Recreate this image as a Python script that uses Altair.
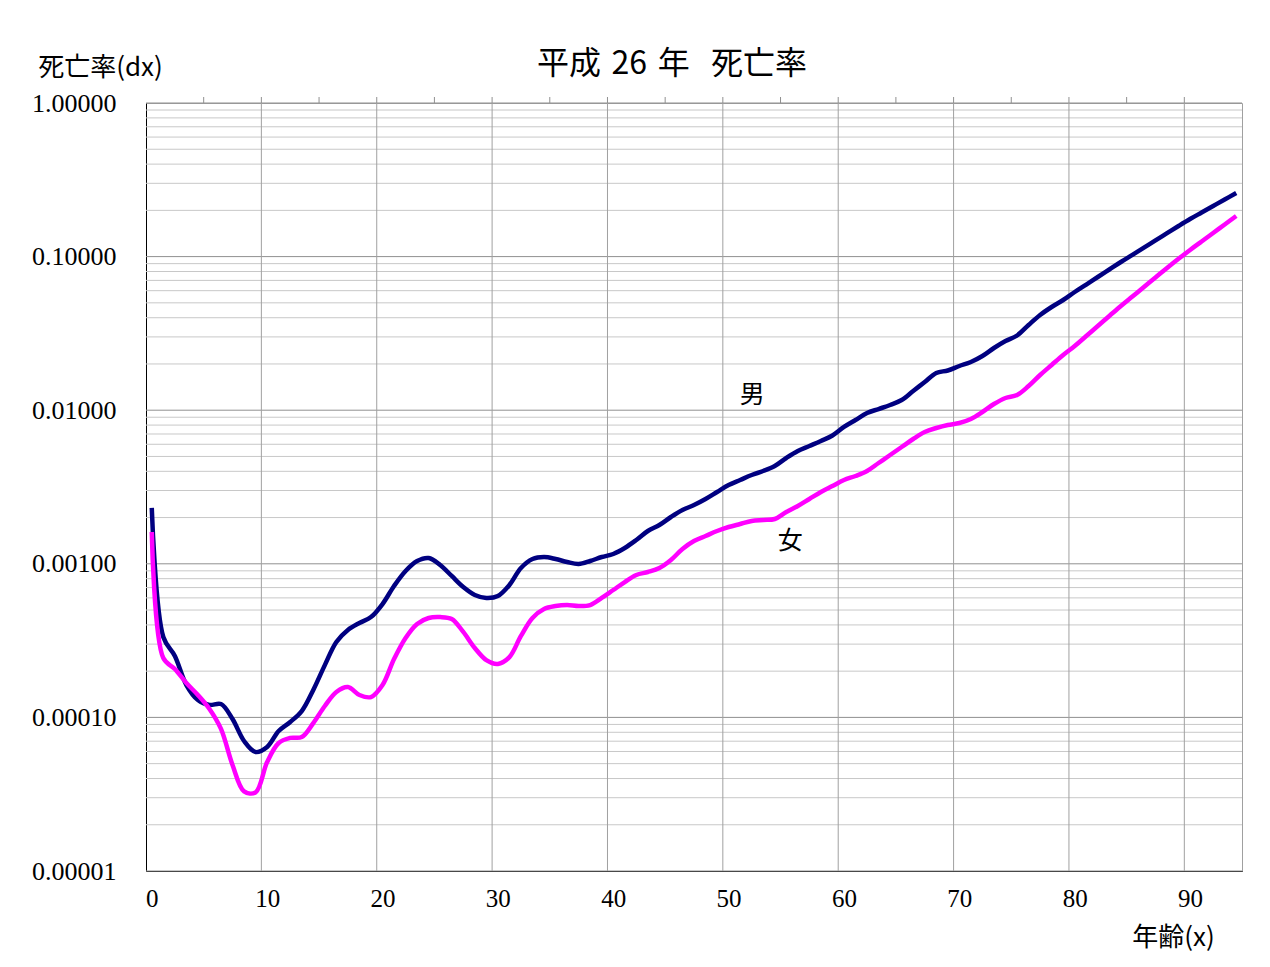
import altair as alt
import pandas as pd

ages = list(range(95))

male = [0.00231, 0.000334, 0.000251, 0.0001625, 0.0001298, 0.0001204, 0.0001222, 0.0000976, 0.0000702, 0.0000595,
        0.0000642, 0.0000816, 0.0000934, 0.000110, 0.000151, 0.000219, 0.000310, 0.000371, 0.000412, 0.000450,
        0.000547, 0.000717, 0.000898, 0.001043, 0.001091, 0.000982, 0.000833, 0.000706, 0.000627, 0.000599,
        0.000617, 0.000728, 0.000939, 0.001075, 0.001107, 0.001075, 0.001027, 0.000997, 0.001043, 0.001107,
        0.001158, 0.001267, 0.001429, 0.001635, 0.001789, 0.002017, 0.002240, 0.002414, 0.002642, 0.002934,
        0.003258, 0.003513, 0.003786, 0.004019, 0.004332, 0.004885, 0.005425, 0.005847, 0.006303, 0.006843,
        0.007776, 0.008635, 0.00959, 0.01018, 0.01081, 0.01165, 0.01334, 0.01526, 0.01747, 0.01814,
        0.01940, 0.02060, 0.02254, 0.02541, 0.02822, 0.03064, 0.03587, 0.04167, 0.04697, 0.05217,
        0.05882, 0.0658, 0.07365, 0.08241, 0.09222, 0.1027, 0.1144, 0.1275, 0.1420, 0.1582,
        0.1757, 0.1937, 0.2135, 0.2353, 0.2595]

female = [0.001611, 0.0002436, 0.0002066, 0.0001675, 0.0001399, 0.0001134, 0.0000841, 0.0000490, 0.0000330, 0.0000325,
          0.0000512, 0.0000681, 0.0000735, 0.0000745, 0.0000919, 0.0001186, 0.0001464, 0.0001577, 0.0001399, 0.0001357,
          0.0001625, 0.000240, 0.000329, 0.000406, 0.000444, 0.000450, 0.000437, 0.000360, 0.000283, 0.000236,
          0.000223, 0.000247, 0.000339, 0.000444, 0.000508, 0.000531, 0.000539, 0.000531, 0.000539, 0.000599,
          0.000675, 0.000761, 0.000846, 0.000884, 0.000939, 0.001059, 0.001249, 0.001407, 0.001517, 0.001635,
          0.001736, 0.001816, 0.001899, 0.001928, 0.001957, 0.002174, 0.002378, 0.002642, 0.002934, 0.003210,
          0.003513, 0.003730, 0.004019, 0.004531, 0.005109, 0.005760, 0.006494, 0.007213, 0.007657, 0.008010,
          0.008254, 0.008766, 0.009734, 0.01098, 0.01201, 0.01256, 0.01437, 0.01695, 0.01970, 0.02288,
          0.02618, 0.03042, 0.03533, 0.04105, 0.04768, 0.05498, 0.06341, 0.07310, 0.08430, 0.09676,
          0.1104, 0.1254, 0.1424, 0.1618, 0.1837]

series_names = ["男", "女"]
series_colors = ["#000080", "#FF00FF"]

x_tick_labels = [0, 10, 20, 30, 40, 50, 60, 70, 80, 90]
x_grid_bounds = [a - 0.5 for a in range(10, 95, 10)]
x_top_ticks = [a - 0.5 for a in range(5, 95, 5)]
y_tick_labels = [0.00001, 0.0001, 0.001, 0.01, 0.1, 1.0]
y_minor = [k * 10.0 ** e for e in range(-5, 0) for k in range(2, 10)]

label_text = ["男", "女"]
label_age = [52.05, 55.35]
label_dx = [0.01256, 0.001407]

title_text = "平成\u200426\u2004年\u2004\u2004死亡率"

df = pd.DataFrame({
    "age": ages + ages,
    "dx": male + female,
    "sex": [series_names[0]] * len(ages) + [series_names[1]] * len(ages),
})
df_vgrid = pd.DataFrame({"b": x_grid_bounds})
df_top = pd.DataFrame({"b": x_top_ticks})
df_minor = pd.DataFrame({"v": y_minor})
df_major = pd.DataFrame({"v": y_tick_labels})
df_lab = pd.DataFrame({"age": label_age, "dx": label_dx, "t": label_text})

SERIF = "Liberation Serif"
CJK = "Noto Sans CJK JP"

x_scale = alt.Scale(domain=[-0.5, 94.5], nice=False, zero=False)
y_scale = alt.Scale(type="log", domain=[0.00001, 1], nice=False)

minor_grid = alt.Chart(df_minor).mark_rule(color="#c8c8c8", strokeWidth=1).encode(
    y=alt.Y("v:Q", scale=y_scale, axis=None)
)

major_grid = alt.Chart(df_major).mark_rule(color="#909090", strokeWidth=1).encode(
    y=alt.Y("v:Q", scale=y_scale, axis=None)
)

vgrid = alt.Chart(df_vgrid).mark_rule(color="#a0a0a0", strokeWidth=1).encode(
    x=alt.X("b:Q", scale=x_scale, axis=None)
)

top_ticks = alt.Chart(df_top).mark_rule(color="#909090", strokeWidth=1).encode(
    x=alt.X("b:Q", scale=x_scale, axis=None),
    y=alt.value(-6),
    y2=alt.value(0),
)

labels = alt.Chart(df_lab).mark_text(font=CJK, fontSize=25, color="black",
                                     align="center", baseline="middle").encode(
    x=alt.X("age:Q", scale=x_scale, axis=None),
    y=alt.Y("dx:Q", scale=y_scale, axis=None),
    text="t:N",
)

lines = alt.Chart(df).mark_line(strokeWidth=4.5, interpolate="catmull-rom").encode(
    x=alt.X("age:Q", scale=x_scale,
            axis=alt.Axis(orient="bottom", values=x_tick_labels, title="年齢(x)", grid=False, ticks=False,
                          domain=True, domainColor="black", labelFont=SERIF, labelFontSize=25,
                          labelColor="black", labelPadding=15, labelFlush=False,
                          titleFont=CJK, titleFontSize=26, titleFontWeight="normal",
                          titleColor="black", titleX=1027, titleY=66,
                          titleAlign="center", titleBaseline="middle")),
    y=alt.Y("dx:Q", scale=y_scale,
            axis=alt.Axis(orient="left", values=y_tick_labels, format=".5f", title="死亡率(dx)", grid=False,
                          ticks=False, domain=True, domainColor="black",
                          labelFont=SERIF, labelFontSize=26, labelColor="black",
                          labelPadding=30, labelFlush=False,
                          titleFont=CJK, titleFontSize=26, titleFontWeight="normal",
                          titleColor="black", titleAngle=0, titleX=-46, titleY=-36,
                          titleAlign="center", titleBaseline="middle")),
    color=alt.Color("sex:N", scale=alt.Scale(domain=series_names, range=series_colors), legend=None),
)

chart = alt.layer(minor_grid, major_grid, vgrid, top_ticks, labels, lines).resolve_axis(
    x="independent", y="independent"
).properties(
    width=1096,
    height=768,
    autosize="none",
    padding={"left": 138, "top": 95, "right": 16, "bottom": 88},
    title=alt.TitleParams(title_text, font=CJK, fontSize=32, fontWeight="normal",
                          color="black", anchor="middle", dx=-22, dy=44, offset=17),
).configure_view(
    stroke="#a0a0a0", strokeWidth=1
)

chart.save("out.html", embed_options={"renderer": "svg", "actions": False})
